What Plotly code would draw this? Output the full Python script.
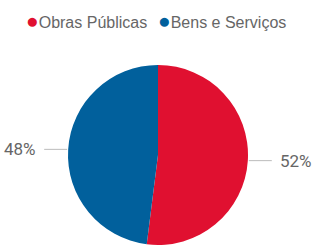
import math
import plotly.graph_objects as go

categories = ["Obras Públicas", "Bens e Serviços"]
values = [52, 48]
colors = ["#E01030", "#01609C"]

W, H = 312, 246
# pie placement in pixels
px0, px1 = 68, 248
py0, py1 = 65, 245
cx, cy = (px0 + px1) / 2, (py0 + py1) / 2
r = min(px1 - px0, py1 - py0) / 2

fig = go.Figure()
fig.add_trace(go.Pie(
    labels=categories, values=values, sort=False, direction="clockwise",
    rotation=0, marker=dict(colors=colors, line=dict(width=0)),
    textinfo="none", hoverinfo="label+percent", showlegend=False,
    domain=dict(x=[px0 / W, px1 / W], y=[1 - py1 / H, 1 - py0 / H]),
))

font_lbl = dict(family="Roboto", size=17, color="#666666")
total = sum(values)
start = 0.0
shapes, annotations = [], []
for cat, v in zip(categories, values):
    frac = v / total
    mid = math.radians((start + frac / 2) * 360)
    start += frac
    ex = cx + r * math.sin(mid)
    ey = cy - r * math.cos(mid)
    side = 1 if math.sin(mid) >= 0 else -1
    x_a, x_b, x_t = ex + side * 1, ex + side * 24, ex + side * 30
    shapes.append(dict(type="line", xref="paper", yref="paper",
                       x0=x_a / W, x1=x_b / W, y0=1 - ey / H, y1=1 - ey / H,
                       line=dict(color="#BBBBBB", width=1)))
    annotations.append(dict(xref="paper", yref="paper", x=x_t / W, y=1 - ey / H,
                            text=f"{round(frac * 100)}%", showarrow=False,
                            xanchor="left" if side > 0 else "right", yanchor="middle",
                            font=font_lbl))

# legend drawn as text items
legend_x = [24, 156]
for cat, col, lx in zip(categories, colors, legend_x):
    annotations.append(dict(xref="paper", yref="paper", x=lx / W, y=1 - 20 / H,
                            text=f"<span style='color:{col};font-size:21px'>●</span>{cat}",
                            showarrow=False, xanchor="left", yanchor="middle",
                            font=dict(family="Liberation Sans", size=16, color="#666666")))

fig.update_layout(
    width=W, height=H, margin=dict(l=0, r=0, t=0, b=0),
    paper_bgcolor="white", plot_bgcolor="white",
    shapes=shapes, annotations=annotations, showlegend=False,
)
fig.write_html("out.html", config={"displayModeBar": False},
               post_script="document.body.style.margin='0';document.body.style.overflow='hidden';")
